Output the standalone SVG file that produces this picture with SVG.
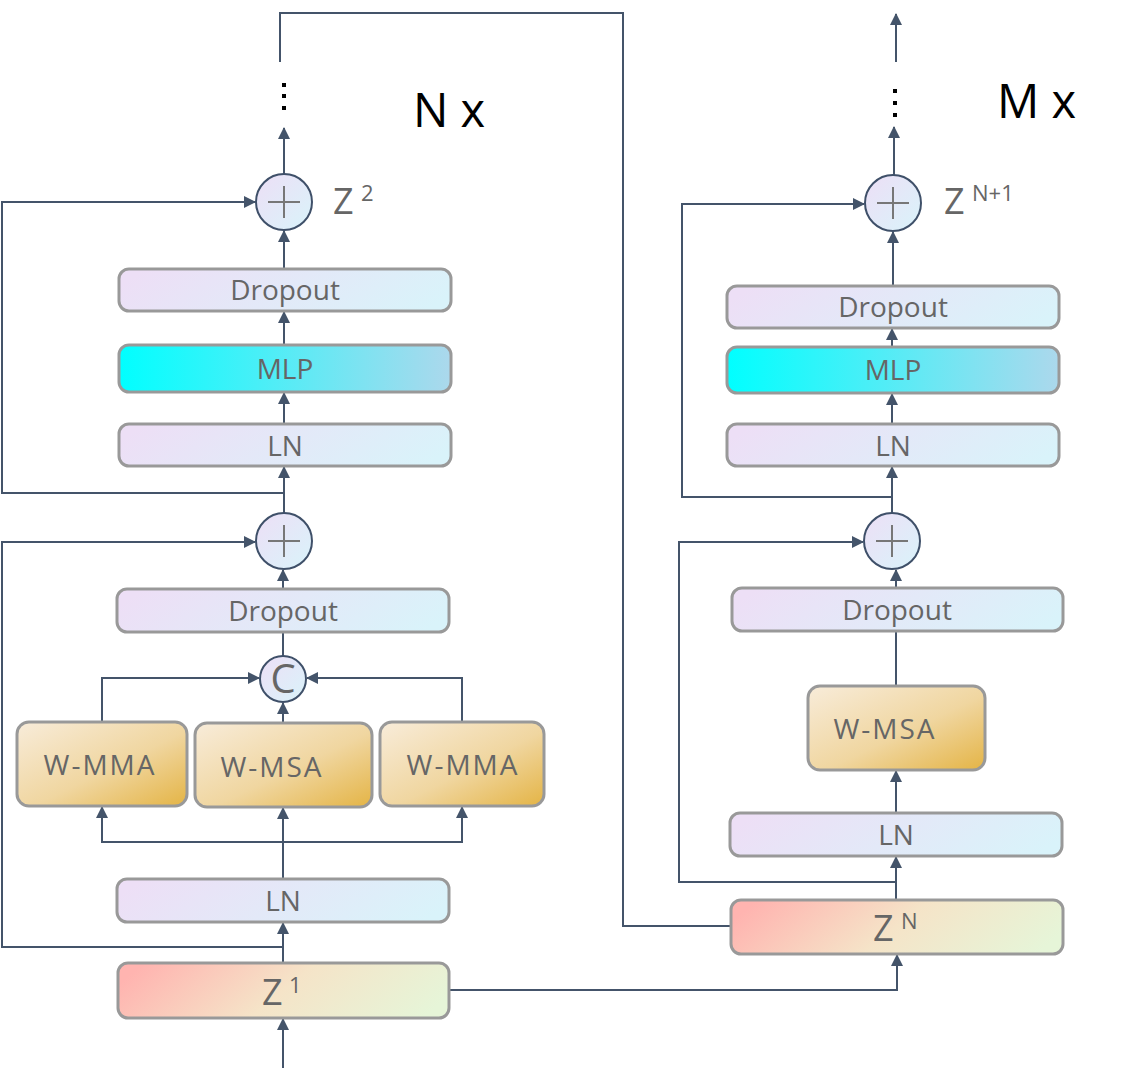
<svg xmlns="http://www.w3.org/2000/svg" width="1132" height="1069" viewBox="0 0 1132 1069">
<defs>
<linearGradient id="gLN" x1="0" y1="0.4" x2="1" y2="0.6"><stop offset="0" stop-color="#eddff6"/><stop offset="1" stop-color="#d9f3fa"/></linearGradient>
<linearGradient id="gMLP" x1="0" y1="0" x2="1" y2="0"><stop offset="0" stop-color="#00ffff"/><stop offset="1" stop-color="#acd8ec"/></linearGradient>
<linearGradient id="gW" x1="0" y1="0" x2="1" y2="1"><stop offset="0" stop-color="#f8ecda"/><stop offset="0.55" stop-color="#f0d6a0"/><stop offset="1" stop-color="#e4b445"/></linearGradient>
<linearGradient id="gZ" x1="0" y1="0.4" x2="1" y2="0.6"><stop offset="0" stop-color="#ffb4b0"/><stop offset="0.5" stop-color="#f5e4c8"/><stop offset="1" stop-color="#e6f5d8"/></linearGradient>
<linearGradient id="gC" x1="0" y1="0" x2="1" y2="1"><stop offset="0" stop-color="#eddff6"/><stop offset="1" stop-color="#d9f3fa"/></linearGradient>
<marker id="ah" markerWidth="12" markerHeight="12" viewBox="0 0 12 12" refX="11" refY="6" orient="auto" markerUnits="userSpaceOnUse"><path d="M0,0 L12,6 L0,12 z" fill="#44546a"/></marker>
<style>
.box{stroke:#999;stroke-width:3}
.t{font-family:"Open Sans","Noto Sans",sans-serif;font-size:28px;fill:#666;text-anchor:middle}
.w{letter-spacing:2px}
.z{font-family:"Open Sans","Noto Sans",sans-serif;font-size:36px;fill:#666}
.s{font-family:"Open Sans","Noto Sans",sans-serif;font-size:22px;fill:#666}
.circ{fill:url(#gC);stroke:#3f5069;stroke-width:2}
.plus{stroke:#777;stroke-width:2;fill:none}
.c{fill:none;stroke:#44546a;stroke-width:2}
.a{marker-end:url(#ah)}
.big{font-family:"Open Sans","Noto Sans",sans-serif;font-size:47px;fill:#000}
.dot{fill:#000}
</style>
</defs>

<g id="connectors">
<path class="c a" d="M283,1068 V1019"/>
<path class="c a" d="M283,963 V923"/>
<path class="c" d="M283,947 H2 V542 H254" />
<path class="c a" d="M246,542 H255"/>
<path class="c a" d="M283,879 V808"/>
<path class="c a" d="M283,842 H102 V807"/>
<path class="c a" d="M283,842 H462 V807"/>
<path class="c a" d="M102,722 V678 H259"/>
<path class="c a" d="M462,722 V678 H307"/>
<path class="c a" d="M283,723 V703"/>
<path class="c" d="M283,656 V633"/>
<path class="c a" d="M283,589 V570"/>
<path class="c a" d="M284,513 V467"/>
<path class="c" d="M284,493 H2 V202 H254"/>
<path class="c a" d="M246,202 H255"/>
<path class="c a" d="M284,424 V393"/>
<path class="c a" d="M284,345 V312"/>
<path class="c a" d="M284,269 V231"/>
<path class="c a" d="M284,174 V128"/>
<path class="c" d="M280,62 V13 H623 V926 H731"/>
<path class="c a" d="M450,990 H897 V955"/>
<path class="c a" d="M896,900 V857"/>
<path class="c" d="M896,882 H679 V542 H862"/>
<path class="c a" d="M856,542 H863"/>
<path class="c a" d="M896,813 V771"/>
<path class="c" d="M896,686 V632"/>
<path class="c a" d="M896,588 V570"/>
<path class="c a" d="M892,513 V467"/>
<path class="c" d="M892,497 H682 V204 H863"/>
<path class="c a" d="M856,204 H864"/>
<path class="c a" d="M892,424 V394"/>
<path class="c a" d="M892,347 V329"/>
<path class="c a" d="M893,286 V232"/>
<path class="c a" d="M894,175 V127"/>
<path class="c a" d="M896,62 V14"/>
</g>

<g id="dots">
<rect class="dot" x="282" y="83" width="4" height="4"/>
<rect class="dot" x="282" y="94" width="4" height="4"/>
<rect class="dot" x="282" y="106" width="4" height="4"/>
<rect class="dot" x="893" y="89" width="4" height="4"/>
<rect class="dot" x="893" y="101" width="4" height="4"/>
<rect class="dot" x="893" y="113" width="4" height="4"/>
</g>

<g id="labels">
<text class="big" x="413" y="127">N x</text>
<text class="big" x="997" y="118">M x</text>
</g>

<g id="plusL2"><circle class="circ" cx="284" cy="202" r="28"/><path class="plus" d="M268,202 H300 M284,186 V218"/>
<text class="z" x="333" y="214">Z</text><text class="s" x="361" y="201">2</text></g>
<g id="dropoutL2"><rect class="box" x="119" y="269" width="332" height="42" rx="10" fill="url(#gLN)"/><text class="t" x="285" y="300">Dropout</text></g>
<g id="mlpL"><rect class="box" x="119" y="345" width="332" height="47" rx="10" fill="url(#gMLP)"/><text class="t" x="285" y="379">MLP</text></g>
<g id="lnL2"><rect class="box" x="119" y="424" width="332" height="42" rx="10" fill="url(#gLN)"/><text class="t" x="285" y="456">LN</text></g>
<g id="plusL1"><circle class="circ" cx="284" cy="541" r="28"/><path class="plus" d="M268,541 H300 M284,525 V557"/></g>
<g id="dropoutL1"><rect class="box" x="117" y="589" width="332" height="43" rx="10" fill="url(#gLN)"/><text class="t" x="283" y="621">Dropout</text></g>
<g id="concat"><circle class="circ" cx="283" cy="679" r="23"/><text x="283" y="693" style="font-family:'Open Sans','Noto Sans',sans-serif;font-size:40px;fill:#666;text-anchor:middle">C</text></g>
<g id="wmmaL"><rect class="box" x="17" y="722" width="170" height="84" rx="12" fill="url(#gW)"/><text class="t w" x="100" y="775">W-MMA</text></g>
<g id="wmsaL"><rect class="box" x="195" y="723" width="177" height="84" rx="12" fill="url(#gW)"/><text class="t w" x="272" y="777">W-MSA</text></g>
<g id="wmmaR"><rect class="box" x="380" y="722" width="164" height="84" rx="12" fill="url(#gW)"/><text class="t w" x="463" y="775">W-MMA</text></g>
<g id="lnL1"><rect class="box" x="117" y="879" width="332" height="43" rx="10" fill="url(#gLN)"/><text class="t" x="283" y="911">LN</text></g>
<g id="z1"><rect class="box" x="118" y="963" width="331" height="55" rx="10" fill="url(#gZ)"/>
<text class="z" x="262" y="1005">Z</text><text class="s" x="289" y="993">1</text></g>

<g id="plusR2"><circle class="circ" cx="893" cy="203" r="28"/><path class="plus" d="M877,203 H909 M893,187 V219"/>
<text class="z" x="944" y="214">Z</text><text class="s" x="972" y="201">N+1</text></g>
<g id="dropoutR2"><rect class="box" x="727" y="286" width="332" height="42" rx="10" fill="url(#gLN)"/><text class="t" x="893" y="317">Dropout</text></g>
<g id="mlpR"><rect class="box" x="727" y="347" width="332" height="46" rx="10" fill="url(#gMLP)"/><text class="t" x="893" y="380">MLP</text></g>
<g id="lnR2"><rect class="box" x="727" y="424" width="332" height="42" rx="10" fill="url(#gLN)"/><text class="t" x="893" y="456">LN</text></g>
<g id="plusR1"><circle class="circ" cx="892" cy="541" r="28"/><path class="plus" d="M876,541 H908 M892,525 V557"/></g>
<g id="dropoutR1"><rect class="box" x="732" y="588" width="331" height="43" rx="10" fill="url(#gLN)"/><text class="t" x="897" y="620">Dropout</text></g>
<g id="wmsaR"><rect class="box" x="808" y="686" width="177" height="84" rx="12" fill="url(#gW)"/><text class="t w" x="885" y="739">W-MSA</text></g>
<g id="lnR1"><rect class="box" x="730" y="813" width="332" height="43" rx="10" fill="url(#gLN)"/><text class="t" x="896" y="845">LN</text></g>
<g id="zN"><rect class="box" x="731" y="900" width="332" height="54" rx="10" fill="url(#gZ)"/>
<text class="z" x="873" y="941">Z</text><text class="s" x="901" y="929">N</text></g>
</svg>
